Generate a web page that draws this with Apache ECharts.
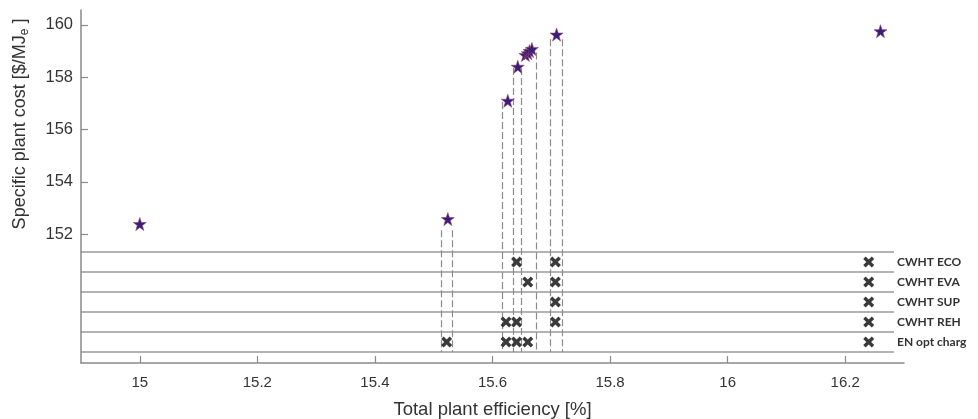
<!DOCTYPE html>
<html><head><meta charset="utf-8">
<script src="https://cdn.jsdelivr.net/npm/echarts@6/dist/echarts.min.js"></script>
<style>html,body{margin:0;padding:0;background:#fff}#c{width:978px;height:419px}</style>
</head><body><div id="c"></div>
<script>
// ---- data ----
const xTicks = [15, 15.2, 15.4, 15.6, 15.8, 16, 16.2];
const yTicks = [152, 154, 156, 158, 160];

// Pareto stars: efficiency [%] vs specific cost
const starX = [15.0, 15.524, 15.626, 15.643, 15.656, 15.660, 15.663, 15.667, 15.709, 16.26];
const starY = [152.39, 152.58, 157.10, 158.40, 158.85, 158.92, 159.00, 159.08, 159.63, 159.76];

// dashed guide lines (x position, top value)
const dashX   = [15.512, 15.531, 15.616, 15.636, 15.649, 15.674, 15.699, 15.719];
const dashTop = [152.15, 152.15, 157.05, 158.35, 158.35, 158.95, 159.45, 159.45];
const dashBottom = 147.5;

// option rows
const rows = ['CWHT ECO', 'CWHT EVA', 'CWHT SUP', 'CWHT REH', 'EN opt charg'];
const ecoX = [15.641, 15.707, 16.24];
const evaX = [15.660, 15.707, 16.24];
const supX = [15.707, 16.24];
const rehX = [15.623, 15.641, 15.707, 16.24];
const enX  = [15.522, 15.623, 15.641, 15.660, 16.24];

// ---- chart ----
const rowX = [ecoX, evaX, supX, rehX, enX];
const crossData = [];
rowX.forEach((xs, i) => xs.forEach(x => crossData.push([x, rows[i]])));
const starData = starX.map((x, i) => [x, starY[i]]);
const dashData = dashX.map((x, i) => ({ coords: [[x, dashTop[i]], [x, dashBottom]] }));

const STAR = 'path://M50,2 L61.8,36.2 L97.6,36.2 L68.6,57.4 L79.4,91.6 L50,70.4 L20.6,91.6 L31.4,57.4 L2.4,36.2 L38.2,36.2 Z';
const CROSS = 'path://M0,22 L22,0 L50,28 L78,0 L100,22 L72,50 L100,78 L78,100 L50,72 L22,100 L0,78 L28,50 Z';
const AX = '#8a8a8a';
const TXT = '#333';
const FONT = '"Liberation Sans", Arial, sans-serif';

const chart = echarts.init(document.getElementById('c'), null, { renderer: 'canvas' });
chart.setOption({
  animation: false,
  backgroundColor: '#fff',
  grid: [
    { left: 81, right: 74, top: 10, bottom: 56, outerBoundsMode: 'none', containLabel: false },
    { left: 81, right: 84, top: 252, height: 100, outerBoundsMode: 'none', containLabel: false }
  ],
  xAxis: [
    {
      gridIndex: 0, type: 'value', min: 14.9, max: 16.3,
      axisLine: { show: true, lineStyle: { color: AX, width: 1.5 } },
      axisTick: { show: true, inside: true, length: 7, customValues: xTicks, lineStyle: { color: AX, width: 1.2 } },
      axisLabel: { customValues: xTicks, fontSize: 15, color: TXT, fontFamily: FONT, margin: 12 },
      splitLine: { show: false },
      name: 'Total plant efficiency [%]', nameLocation: 'middle', nameGap: 37,
      nameTextStyle: { fontSize: 18.5, color: TXT, fontFamily: FONT }
    },
    {
      gridIndex: 1, type: 'value', min: 14.9, max: 16.283, show: false
    }
  ],
  yAxis: [
    {
      gridIndex: 0, type: 'value', min: 147.08, max: 160.57,
      axisLine: { show: true, lineStyle: { color: AX, width: 1.5 } },
      axisTick: { show: true, inside: true, length: 7, customValues: yTicks, lineStyle: { color: AX, width: 1.2 } },
      axisLabel: { customValues: yTicks, fontSize: 16.5, color: TXT, fontFamily: FONT, margin: 8 },
      splitLine: { show: false }
    },
    {
      gridIndex: 1, type: 'category', data: rows, inverse: true, position: 'right',
      axisLine: { show: false }, axisTick: { show: false },
      axisLabel: { fontSize: 12, fontWeight: 'bold', color: TXT, fontFamily: 'Lato, "Open Sans", sans-serif', margin: 3 },
      splitLine: { show: true, interval: 0, lineStyle: { color: '#9a9a9a', width: 1.5 } }
    }
  ],
  graphic: [{
    type: 'text', x: 20, y: 124, rotation: Math.PI / 2,
    style: {
      text: '{b|Specific plant cost [$/MJ}{s|e}{b| ]}',
      align: 'center', verticalAlign: 'middle',
      fill: TXT,
      rich: {
        b: { fontSize: 18, fontFamily: FONT, fill: TXT, color: TXT },
        s: { fontSize: 12, fontFamily: FONT, fill: TXT, color: TXT, padding: [9, 0, 0, 0] }
      }
    }
  }],
  series: [
    {
      type: 'lines', coordinateSystem: 'cartesian2d', xAxisIndex: 0, yAxisIndex: 0,
      data: dashData, silent: true, z: 1,
      lineStyle: { color: '#8c8c8c', width: 1.2, type: [7, 3], opacity: 1 }
    },
    {
      type: 'scatter', xAxisIndex: 1, yAxisIndex: 1, data: crossData,
      symbol: CROSS, symbolSize: 11, z: 3,
      itemStyle: { color: '#3a3a3a', opacity: 1 }
    },
    {
      type: 'scatter', xAxisIndex: 0, yAxisIndex: 0, data: starData,
      symbol: STAR, symbolSize: 13, z: 4,
      itemStyle: { color: '#33207a', opacity: 1, borderColor: '#9a3f6e', borderWidth: 0.6 }
    }
  ]
});
</script>
</body></html>
